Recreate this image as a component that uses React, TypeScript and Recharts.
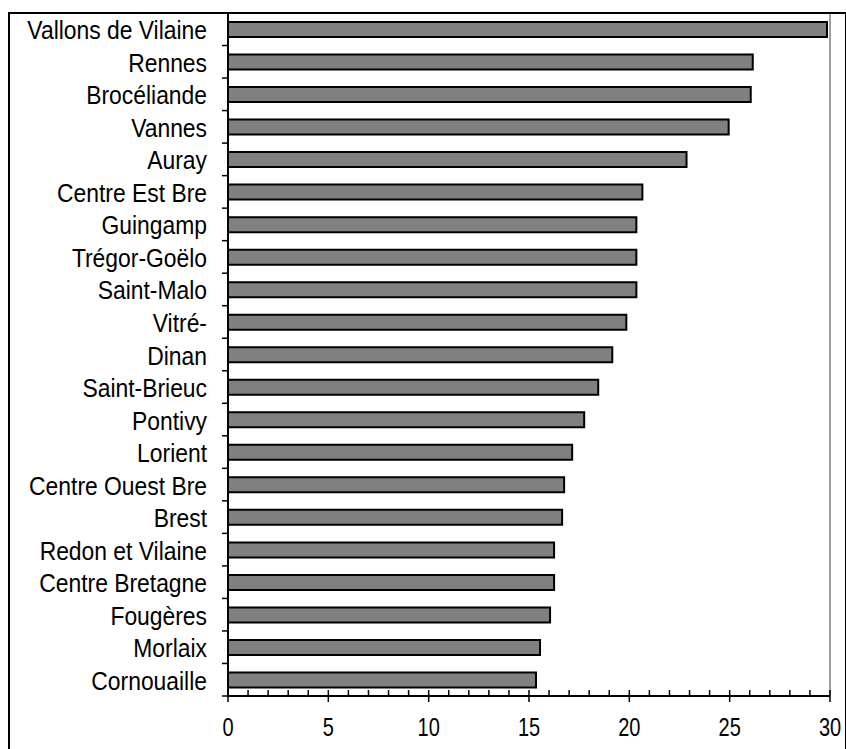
import React from "react";
import {
  BarChart,
  Bar,
  XAxis,
  YAxis,
  ReferenceLine,
} from "recharts";

const categories = [
  "Vallons de Vilaine",
  "Rennes",
  "Brocéliande",
  "Vannes",
  "Auray",
  "Centre Est Bre",
  "Guingamp",
  "Trégor-Goëlo",
  "Saint-Malo",
  "Vitré-",
  "Dinan",
  "Saint-Brieuc",
  "Pontivy",
  "Lorient",
  "Centre Ouest Bre",
  "Brest",
  "Redon et Vilaine",
  "Centre Bretagne",
  "Fougères",
  "Morlaix",
  "Cornouaille",
];

const values = [
  29.85, 26.15, 26.05, 24.95, 22.85, 20.65, 20.35, 20.35, 20.35, 19.85, 19.15,
  18.45, 17.75, 17.15, 16.75, 16.65, 16.25, 16.25, 16.05, 15.55, 15.35,
];

const xTicks = [
  0, 1, 2, 3, 4, 5, 6, 7, 8, 9, 10, 11, 12, 13, 14, 15, 16, 17, 18, 19, 20, 21,
  22, 23, 24, 25, 26, 27, 28, 29, 30,
];

const data = categories.map((name, i) => ({ name, value: values[i] }));

const W = 846;
const H = 749;
const TOP = 13;
const X_AXIS_H = 53;
const Y_AXIS_W = 228;
const BAND = (H - TOP - X_AXIS_H) / categories.length;
const FONT = "'Liberation Sans', Arial, sans-serif";

// the original text is a bit condensed, so squeeze it horizontally
function YTick(props: any) {
  const { x, y, payload, index } = props;
  const half = BAND / 2;
  return (
    <g>
      <text
        transform={`translate(${x - 21},${y + 1}) scale(0.88,1)`}
        textAnchor="end"
        dominantBaseline="central"
        fontFamily={FONT}
        fontSize={26}
        fill="#000"
      >
        {payload.value}
      </text>
      <line x1={x - 6} x2={x} y1={y - half} y2={y - half} stroke="#000" strokeWidth={1.5} />
      {index === categories.length - 1 && (
        <line x1={x - 6} x2={x} y1={y + half} y2={y + half} stroke="#000" strokeWidth={1.5} />
      )}
    </g>
  );
}

function XTick(props: any) {
  const { x, y, payload } = props;
  const major = payload.value % 5 === 0;
  if (!major) {
    return <line x1={x} x2={x} y1={y - 6} y2={y} stroke="#000" strokeWidth={1.5} />;
  }
  return (
    <g>
      <line x1={x} x2={x} y1={y - 6} y2={y + 6} stroke="#000" strokeWidth={1.5} />
      <text
        transform={`translate(${x},${y + 32}) scale(0.8,1)`}
        textAnchor="middle"
        dominantBaseline="central"
        fontFamily={FONT}
        fontSize={25}
        fill="#000"
      >
        {payload.value}
      </text>
    </g>
  );
}

export default function App() {
  return (
    <div
      style={{
        position: "absolute",
        left: 0,
        top: 0,
        width: W,
        height: H,
        overflow: "hidden",
        background: "#fff",
      }}
    >
      <BarChart
        width={W}
        height={H}
        data={data}
        layout="vertical"
        margin={{ top: TOP, right: 16, bottom: 0, left: 0 }}
        barCategoryGap={0}
      >
        <XAxis
          type="number"
          domain={[0, 30]}
          ticks={xTicks}
          interval={0}
          height={X_AXIS_H}
          tickSize={0}
          tickMargin={0}
          tickLine={false}
          axisLine={{ stroke: "#000", strokeWidth: 2 }}
          tick={<XTick />}
        />
        <YAxis
          type="category"
          dataKey="name"
          width={Y_AXIS_W}
          tickSize={0}
          tickMargin={0}
          tickLine={false}
          interval={0}
          axisLine={{ stroke: "#000", strokeWidth: 2 }}
          tick={<YTick />}
        />
        <ReferenceLine x={30} stroke="#a0a0a0" strokeWidth={2} />
        <Bar
          dataKey="value"
          barSize={15}
          fill="#808080"
          stroke="#000"
          strokeWidth={2}
          isAnimationActive={false}
        />
      </BarChart>
      <div
        style={{
          position: "absolute",
          left: 8,
          top: 12,
          width: 835,
          height: 800,
          borderLeft: "2px solid #000",
          borderTop: "2px solid #000",
          borderRight: "2px solid #000",
          pointerEvents: "none",
        }}
      />
    </div>
  );
}
